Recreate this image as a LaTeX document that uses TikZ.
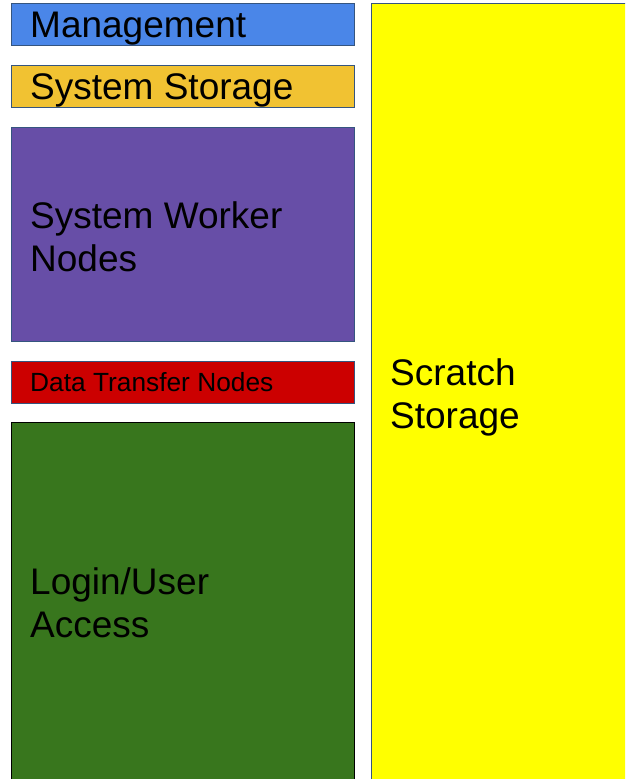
\documentclass[tikz,border=0pt]{standalone}
\usepackage{fontspec}
\setmainfont{Liberation Sans}
\usepackage{tikz}
\usetikzlibrary{positioning}

\definecolor{mgmtblue}{HTML}{4A86E8}
\definecolor{storeorange}{HTML}{F1C232}
\definecolor{workerpurple}{HTML}{674EA7}
\definecolor{dtnred}{HTML}{CC0000}
\definecolor{logingreen}{HTML}{38761D}
\definecolor{scratchyellow}{HTML}{FFFF00}
\definecolor{boxline}{HTML}{35557F}

\begin{document}
\begin{tikzpicture}[x=1pt,y=-1pt,
	box/.style={rectangle,draw=boxline,line width=1.2pt,inner sep=0pt,anchor=north west,minimum width=343pt},
	bigtext/.style={anchor=base west,inner sep=0pt,align=left,font=\fontsize{37}{43}\selectfont},
	smalltext/.style={anchor=base west,inner sep=0pt,font=\fontsize{26.3}{30}\selectfont}]
	
	\useasboundingbox (0,0) rectangle (625,779);
	\clip (0,0) rectangle (625,779);
	
	% left column
	\node [box,fill=mgmtblue,minimum height=42pt] (mgmt) at (11,3) {};
	\node [box,fill=storeorange,minimum height=42pt] (sysstore) at (11,65) {};
	\node [box,fill=workerpurple,minimum height=214pt] (worker) at (11,127) {};
	\node [box,fill=dtnred,minimum height=42pt] (dtn) at (11,361) {};
	\node [box,fill=logingreen,draw=black,minimum height=380pt] (login) at (11,422) {};
	
	% right column
	\node [box,fill=scratchyellow,minimum width=270pt,minimum height=800pt] (scratch) at (370.5,3) {};
	
	% labels (base = last line)
	\node [bigtext] (mgmtlbl) at (30,37) {Management};
	\node [bigtext] (sysstorelbl) at (30,99) {System Storage};
	\node [bigtext] (workerlbl) at (30,271) {System Worker\\Nodes};
	\node [smalltext] (dtnlbl) at (30,391) {Data Transfer Nodes};
	\node [bigtext] (loginlbl) at (30,637) {Login/User\\Access};
	\node [bigtext] (scratchlbl) at (390,428) {Scratch\\Storage};
	
\end{tikzpicture}
\end{document}
